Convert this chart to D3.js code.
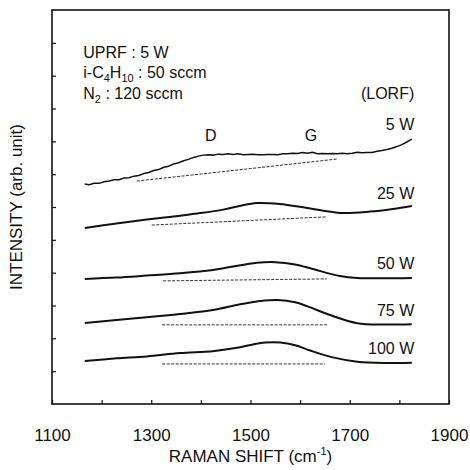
<!DOCTYPE html>
<html>
<head>
<meta charset="utf-8">
<script src="https://cdn.jsdelivr.net/npm/d3@7"></script>
<style>
  body { margin: 0; background: #fff; }
  svg text { font-family: "Liberation Sans", Arial, sans-serif; fill: #111; }
</style>
</head>
<body>
<div id="chart"></div>
<script>
// Raman spectra, one curve per LORF power
const xTickValues = [1100, 1200, 1300, 1400, 1500, 1600, 1700, 1800, 1900];
const xTickLabels = [1100, 1300, 1500, 1700, 1900];
const yTickValues = [1, 2, 3, 4, 5, 6, 7, 8, 9, 10, 11];

const spec5 = [
  [1166, 6.70], [1175, 6.68], [1185, 6.72], [1195, 6.72], [1205, 6.77], [1215, 6.79],
  [1225, 6.83], [1235, 6.83], [1245, 6.88], [1255, 6.89], [1265, 6.94], [1275, 6.96],
  [1285, 7.02], [1295, 7.05], [1305, 7.11], [1315, 7.14], [1325, 7.21], [1335, 7.24],
  [1345, 7.31], [1355, 7.35], [1365, 7.41], [1375, 7.45], [1385, 7.51], [1395, 7.55],
  [1405, 7.58], [1415, 7.59], [1425, 7.58], [1435, 7.61], [1445, 7.60], [1455, 7.62],
  [1465, 7.60], [1475, 7.62], [1485, 7.59], [1495, 7.60], [1505, 7.61], [1515, 7.59],
  [1525, 7.59], [1535, 7.60], [1545, 7.60], [1555, 7.59], [1565, 7.62], [1575, 7.62],
  [1585, 7.64], [1595, 7.63], [1605, 7.66], [1615, 7.64], [1625, 7.67], [1635, 7.62],
  [1645, 7.63], [1655, 7.62], [1665, 7.63], [1675, 7.62], [1685, 7.64], [1695, 7.62],
  [1705, 7.64], [1715, 7.67], [1725, 7.65], [1735, 7.66], [1745, 7.66], [1755, 7.70],
  [1765, 7.72], [1775, 7.75], [1785, 7.79], [1795, 7.84], [1805, 7.90], [1815, 7.98],
  [1825, 8.07]
];
const spec25 = [
  [1166, 5.36], [1230, 5.50], [1291, 5.62], [1350, 5.72], [1392, 5.80], [1445, 5.92],
  [1480, 6.04], [1513, 6.12], [1559, 6.09], [1614, 5.97], [1680, 5.82], [1741, 5.86],
  [1787, 5.94], [1825, 6.03]
];
const spec50 = [
  [1166, 3.81], [1230, 3.85], [1291, 3.91], [1358, 3.98], [1424, 4.08], [1459, 4.17],
  [1513, 4.30], [1550, 4.32], [1590, 4.25], [1626, 4.11], [1680, 3.90], [1715, 3.84],
  [1770, 3.83], [1825, 3.84]
];
const spec75 = [
  [1166, 2.47], [1230, 2.56], [1291, 2.64], [1358, 2.74], [1424, 2.86], [1479, 3.04],
  [1520, 3.14], [1555, 3.17], [1590, 3.10], [1614, 2.98], [1666, 2.68], [1715, 2.46],
  [1770, 2.42], [1825, 2.43]
];
const spec100 = [
  [1166, 1.31], [1230, 1.39], [1291, 1.45], [1358, 1.55], [1424, 1.61], [1473, 1.71],
  [1500, 1.80], [1530, 1.87], [1560, 1.87], [1590, 1.79], [1620, 1.63], [1666, 1.42],
  [1715, 1.29], [1770, 1.25], [1825, 1.26]
];

// dashed background lines under each spectrum
const base5 = [[1271, 6.79], [1674, 7.46]];
const base25 = [[1301, 5.45], [1654, 5.70]];
const base50 = [[1324, 3.75], [1654, 3.81]];
const base75 = [[1322, 2.41], [1654, 2.41]];
const base100 = [[1322, 1.22], [1650, 1.22]];

const powerLabels = ["5 W", "25 W", "50 W", "75 W", "100 W"];
const powerLabelY = [8.35, 6.25, 4.12, 2.67, 1.52];
const bandLabels = ["D", "G"];
const bandX = [1420, 1622];
const bandY = 8.0;

const W = 470, H = 470;
const margin = { top: 10, right: 21, bottom: 66, left: 52 };
const width = W - margin.left - margin.right,
      height = H - margin.top - margin.bottom;

const x = d3.scaleLinear().domain([1100, 1900]).range([0, width]);
const y = d3.scaleLinear().domain([0, 12]).range([height, 0]);

const svg = d3.select("#chart").append("svg")
    .attr("width", W)
    .attr("height", H)
  .append("g")
    .attr("transform", `translate(${margin.left},${margin.top})`);

// frame
svg.append("rect")
    .attr("width", width)
    .attr("height", height)
    .style("fill", "none")
    .style("stroke", "#111")
    .style("stroke-width", 1.6);

// inward ticks
const xAxis = svg.append("g")
    .attr("class", "x axis")
    .attr("transform", `translate(0,${height})`)
    .call(d3.axisBottom(x).tickValues(xTickValues).tickSizeInner(-4).tickSizeOuter(0)
        .tickFormat(d => xTickLabels.includes(d) ? d : ""));
xAxis.select(".domain").remove();
xAxis.selectAll("line").style("stroke", "#111").style("stroke-width", 1.2);
xAxis.selectAll("text")
    .attr("y", 25)
    .style("font-size", "17px");

const yAxis = svg.append("g")
    .attr("class", "y axis")
    .call(d3.axisLeft(y).tickValues(yTickValues).tickSizeInner(-4).tickSizeOuter(0).tickFormat(""));
yAxis.select(".domain").remove();
yAxis.selectAll("line").style("stroke", "#111").style("stroke-width", 1.2);

// axis titles
const xTitle = svg.append("text")
    .attr("x", x(1500))
    .attr("y", height + 58)
    .style("text-anchor", "middle")
    .style("font-size", "17px")
    .text("RAMAN SHIFT (cm");
xTitle.append("tspan").attr("dy", -7).style("font-size", "11px").text("-1");
xTitle.append("tspan").attr("dy", 7).text(")");

svg.append("text")
    .attr("transform", "rotate(-90)")
    .attr("x", -(y(6.0)))
    .attr("y", -30)
    .style("text-anchor", "middle")
    .style("font-size", "17px")
    .text("INTENSITY (arb. unit)");

// spectra
const line = d3.line()
    .x(d => x(d[0]))
    .y(d => y(d[1]))
    .curve(d3.curveCatmullRom.alpha(0.5));

svg.append("path")
    .datum(spec5)
    .attr("d", d3.line().x(d => x(d[0])).y(d => y(d[1]))(spec5))
    .style("fill", "none")
    .style("stroke", "#111")
    .style("stroke-width", 1.5);

[spec25, spec50, spec75, spec100].forEach(s => {
    svg.append("path")
        .datum(s)
        .attr("d", line)
        .style("fill", "none")
        .style("stroke", "#111")
        .style("stroke-width", 2);
});

[base5, base25, base50, base75, base100].forEach(b => {
    svg.append("path")
        .datum(b)
        .attr("d", d3.line().x(d => x(d[0])).y(d => y(d[1])))
        .style("fill", "none")
        .style("stroke", "#333")
        .style("stroke-width", 1)
        .style("stroke-dasharray", "3,1.5");
});

// curve labels
svg.selectAll(".power-label")
    .data(powerLabels)
    .enter().append("text")
    .attr("class", "power-label")
    .attr("x", x(1830))
    .attr("y", (d, i) => y(powerLabelY[i]))
    .style("text-anchor", "end")
    .style("font-size", "16px")
    .text(d => d);

svg.append("text")
    .attr("x", x(1830))
    .attr("y", y(9.3))
    .style("text-anchor", "end")
    .style("font-size", "16px")
    .text("(LORF)");

svg.selectAll(".band-label")
    .data(bandLabels)
    .enter().append("text")
    .attr("class", "band-label")
    .attr("x", (d, i) => x(bandX[i]))
    .attr("y", y(bandY))
    .style("text-anchor", "middle")
    .style("font-size", "16px")
    .text(d => d);

// process conditions
const cond = svg.append("g")
    .attr("transform", `translate(${x(1163)},0)`)
    .style("font-size", "16px");

cond.append("text").attr("y", y(10.55)).text("UPRF : 5 W");

const c2 = cond.append("text").attr("y", y(9.92)).text("i-C");
c2.append("tspan").attr("dy", 4).style("font-size", "11px").text("4");
c2.append("tspan").attr("dy", -4).text("H");
c2.append("tspan").attr("dy", 4).style("font-size", "11px").text("10");
c2.append("tspan").attr("dy", -4).text(" : 50 sccm");

const c3 = cond.append("text").attr("y", y(9.28)).text("N");
c3.append("tspan").attr("dy", 4).style("font-size", "11px").text("2");
c3.append("tspan").attr("dy", -4).text(" : 120 sccm");
</script>
</body>
</html>
